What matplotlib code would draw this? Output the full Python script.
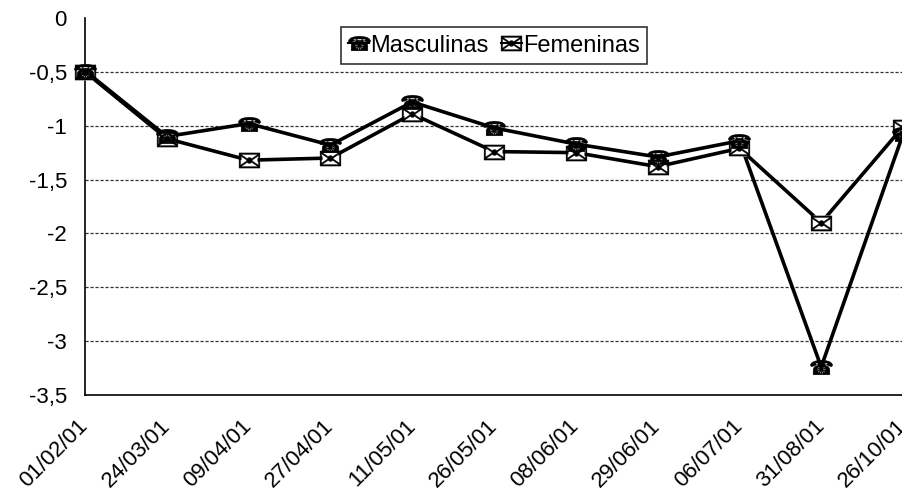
import matplotlib.pyplot as plt
from matplotlib.ticker import FuncFormatter

plt.rcParams['font.family'] = ['Liberation Sans', 'DejaVu Sans']

fechas = ["01/02/01", "24/03/01", "09/04/01", "27/04/01", "11/05/01", "26/05/01",
          "08/06/01", "29/06/01", "06/07/01", "31/08/01", "26/10/01"]
masculinas = [-0.49, -1.10, -0.98, -1.18, -0.78, -1.02, -1.17, -1.29, -1.14, -3.24, -1.08]
femeninas = [-0.50, -1.12, -1.32, -1.30, -0.89, -1.24, -1.25, -1.38, -1.21, -1.90, -1.01]

fig = plt.figure(figsize=(9.03, 4.93), dpi=100)
ax = fig.add_axes([85/903, 1 - 395/493, 1 - 85/903, (395 - 18)/493])

x = list(range(len(fechas)))
# lines
ax.plot(x, masculinas, color='black', lw=2.6, clip_on=False, zorder=3)
ax.plot(x, femeninas, color='black', lw=2.6, clip_on=False, zorder=3)
# envelope markers: white box under the glyph
ax.plot(x, femeninas, ls='none', marker='s', ms=12, mfc='white', mec='none',
        clip_on=False, zorder=4)
ax.plot(x, femeninas, ls='none', marker='$\u2709$', ms=15, mfc='black', mec='black',
        mew=0.3, clip_on=False, zorder=5)
ax.plot(x, masculinas, ls='none', marker='$\u260e$', ms=16, mfc='black', mec='black',
        mew=0.3, clip_on=False, zorder=6)

# legend handles
h1, = ax.plot([], [], color='black', lw=1.5, marker='$\u260e$', ms=16, mfc='black',
              mec='black', mew=0.3)
h2, = ax.plot([], [], color='black', lw=1.5, marker='$\u2709$', ms=15, mfc='black',
              mec='black', mew=0.3)

ax.set_xlim(0, len(fechas) - 1)
ax.set_ylim(-3.5, 0)
ax.set_yticks([0, -0.5, -1, -1.5, -2, -2.5, -3, -3.5])
ax.yaxis.set_major_formatter(FuncFormatter(lambda v, p: ('%g' % v).replace('.', ',')))
ax.set_xticks(x)
ax.set_xticklabels(fechas, rotation=45, ha='right', va='center', rotation_mode='anchor')
ax.tick_params(length=0, labelsize=16)
ax.tick_params(axis='x', pad=20)
ax.tick_params(axis='y', pad=13)

for v in [-0.5, -1, -1.5, -2, -2.5, -3]:
    ax.axhline(v, color='#333333', lw=0.9, ls=(0, (2.5, 1.5)), zorder=1)

ax.spines['top'].set_visible(False)
ax.spines['right'].set_visible(False)
ax.spines['left'].set_linewidth(1.2)
ax.spines['bottom'].set_linewidth(1.2)

leg = ax.legend([h1, h2], ['Masculinas', 'Femeninas'], loc='upper center',
                bbox_to_anchor=(0.5, 0.975), ncol=2, fontsize=17, frameon=True,
                fancybox=False, edgecolor='black', handlelength=0.9,
                handletextpad=0.05, columnspacing=0.5, borderpad=0.3,
                borderaxespad=0)
leg.get_frame().set_linewidth(1.2)

fig.savefig('out.png', dpi=100)
